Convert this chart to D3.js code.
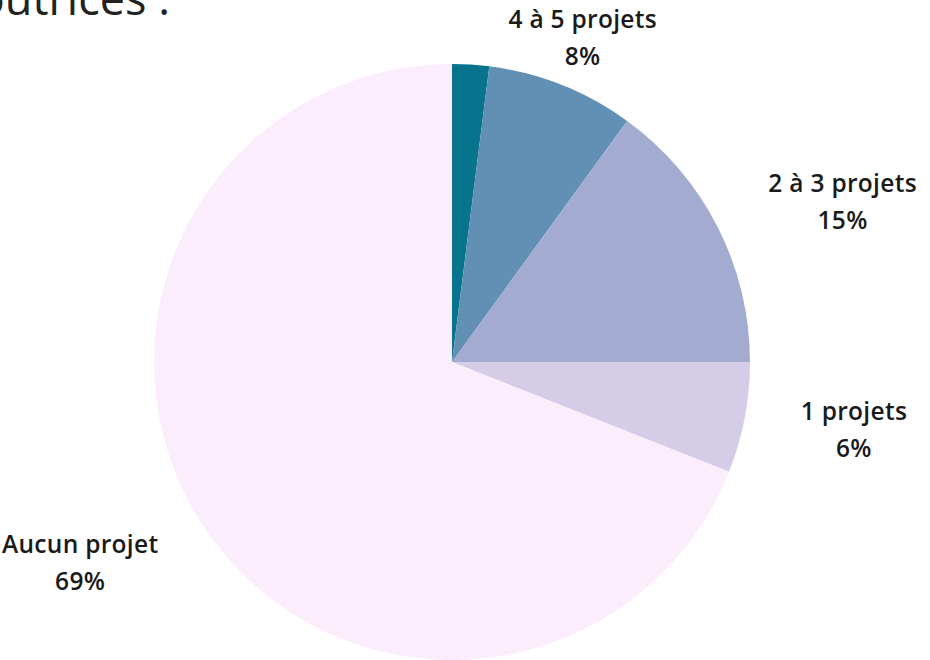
<!DOCTYPE html>
<html>
<head>
<meta charset="utf-8">
<script src="https://cdn.jsdelivr.net/npm/d3@7"></script>
<style>
  body { margin: 0; background: #fff; }
  svg { display: block; }
</style>
</head>
<body>
<div id="chart"></div>
<script>
// slice data, clockwise from 12 o'clock
const categories = ["Plus de 5 projets", "4 à 5 projets", "2 à 3 projets", "1 projets", "Aucun projet"];
const values = [2, 8, 15, 6, 69];
const showLabel = [false, true, true, true, true];
const colors = ["#07738d", "#6290b5", "#a3acd0", "#d5cce8", "#fcedfd"];
const titleText = "Répartition des contributrices :";

const width = 930, height = 660;
const cx = 452, cy = 362, radius = 298;
const labelRadius = 355;

const svg = d3.select("#chart")
  .append("svg")
  .attr("width", width)
  .attr("height", height);

// title, partly off the top-left of the picture
svg.append("text")
  .attr("x", 170)
  .attr("y", 15)
  .attr("text-anchor", "end")
  .style("font-family", "'Open Sans', sans-serif")
  .style("font-size", "45px")
  .style("fill", "#222")
  .text(titleText);

const data = categories.map((c, i) => ({ name: c, value: values[i], label: showLabel[i], color: colors[i] }));

const pie = d3.pie()
  .sort(null)
  .value(d => d.value);

const arc = d3.arc()
  .innerRadius(0)
  .outerRadius(radius);

const arcs = pie(data);
const g = svg.append("g").attr("transform", `translate(${cx},${cy})`);

g.selectAll("path")
  .data(arcs)
  .join("path")
  .attr("d", arc)
  .attr("fill", d => d.data.color);

// labels: anchored on a point of a wider circle at the mid angle,
// centred near the top, pushed to the side elsewhere
const total = d3.sum(values);
const labels = g.selectAll("g.label")
  .data(arcs.filter(d => d.data.label))
  .join("g")
  .attr("class", "label");

labels.append("text")
  .attr("text-anchor", "middle")
  .style("font-family", "'Open Sans', sans-serif")
  .style("font-weight", "600")
  .style("font-size", "24.5px")
  .style("letter-spacing", "0.3px")
  .style("fill", "#1a1a1a")
  .call(t => t.append("tspan").attr("x", 0).attr("y", 0).text(d => d.data.name))
  .call(t => t.append("tspan").attr("x", 0).attr("y", 37).text(d => Math.round(d.data.value / total * 100) + "%"));

labels.each(function(d) {
  const box = this.getBBox();
  const a = (d.startAngle + d.endAngle) / 2;
  const ux = Math.sin(a), uy = -Math.cos(a);
  const px = ux * labelRadius, py = uy * labelRadius;
  const hw = box.width / 2, hh = box.height / 2;
  let mx = px;
  if (Math.abs(ux) >= 0.5) mx = px + Math.sign(ux) * hw;
  let my = py;
  if (cy + my - hh < 2) my = 2 + hh - cy;
  d3.select(this).attr("transform",
    `translate(${mx - (box.x + hw)},${my - (box.y + hh)})`);
});
</script>
</body>
</html>
